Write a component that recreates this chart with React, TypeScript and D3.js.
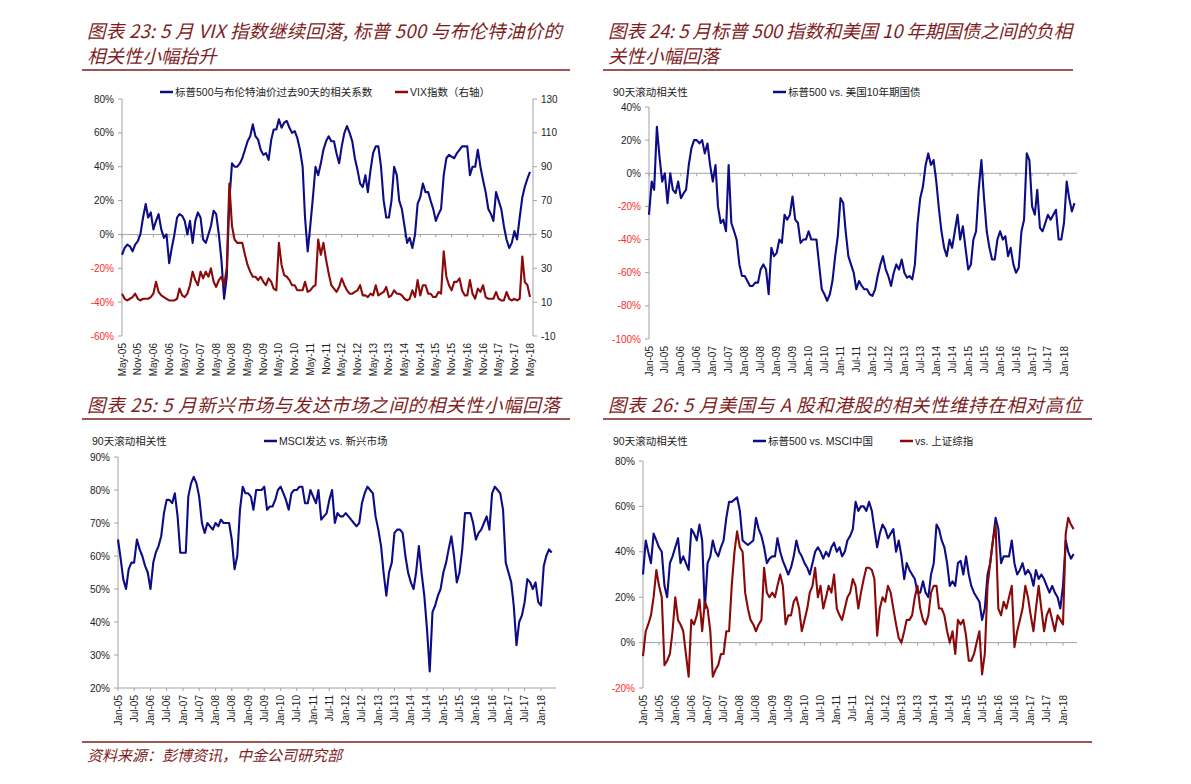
import React from "react";
import * as d3 from "d3";

// ---------- data: monthly readings ----------
// Panel 23: May-05 .. May-18
const p1Start = new Date(2005, 4, 1);
const p1Corr = [
  -12, -8, -6, -7, -10, -6, -4, 0,
  10, 18, 10, 13, 3, 8, 12, 3, -2, 0, -17, -8,
  0, 10, 12, 11, 8, 0, 8, -5, 8, 13, 10, -3,
  -5, 0, 5, 14, 12, 0, -15, -38, -25, 20, 42, 40,
  40, 42, 45, 50, 55, 58, 65, 58, 56, 50, 47, 48,
  44, 56, 62, 62, 68, 63, 66, 67, 63, 60, 61, 57,
  50, 40, 10, -10, 5, 22, 40, 35, 42, 50, 55, 58,
  55, 55, 48, 42, 52, 60, 64, 60, 55, 45, 38, 30,
  28, 35, 25, 38, 48, 52, 52, 40, 20, 10, 10, 20,
  40, 35, 20, 15, 5, -5, -2, -8, 0, 18, 22, 30,
  25, 25, 20, 15, 8, 12, 15, 35, 45, 47, 46, 45,
  48, 50, 52, 52, 52, 35, 40, 40, 50, 40, 32, 25,
  15, 12, 8, 25, 20, 15, 5, -3, -8, -5, 2, -3,
  10, 22, 28, 33, 37,
];
const p1Vix = [
  15, 12, 11, 12, 13, 15, 12, 11,
  12, 12, 12, 13, 15, 22, 16, 14, 13, 12, 11, 11,
  11, 12, 18, 14, 13, 15, 20, 28, 23, 20, 28, 24,
  28, 25, 30, 22, 19, 23, 25, 20, 30, 80, 55, 47,
  45, 45, 45, 38, 32, 28, 25, 25, 23, 25, 22, 20,
  24, 22, 18, 17, 45, 32, 26, 25, 23, 20, 20, 17,
  17, 17, 22, 16, 17, 19, 20, 47, 38, 45, 35, 27,
  20, 18, 16, 19, 24, 20, 17, 15, 15, 16, 17, 20,
  14, 14, 13, 15, 14, 20, 14, 15, 16, 19, 13, 14,
  17, 15, 15, 14, 12, 11, 12, 17, 13, 23, 14, 20,
  20, 15, 15, 13, 13, 16, 15, 40, 25, 20, 17, 22,
  22, 24, 17, 14, 14, 23, 15, 12, 18, 16, 20, 13,
  12, 12, 12, 16, 12, 11, 11, 16, 12, 11, 12, 11,
  12, 37, 22, 20, 13,
];
const p1LeftTicks = [-60, -40, -20, 0, 20, 40, 60, 80];
const p1RightTicks = [-10, 10, 30, 50, 70, 90, 110, 130];

// Panels 24-26: Jan-05 .. May-18
const janStart = new Date(2005, 0, 1);
const p2Corr = [
  -25, -5, -10, 28, 10, -5, 0, -18, 0, -10, -12, -5,
  -15, -12, -10, 5, 15, 20, 20, 18, 20, 12, 18, 5,
  -5, 5, -20, -30, -28, -35, 5, -30, -35, -40, -55, -62,
  -62, -65, -68, -68, -66, -66, -58, -55, -58, -73, -45, -50,
  -48, -40, -42, -25, -28, -25, -14, -28, -30, -42, -40, -40,
  -35, -40, -40, -40, -55, -70, -73, -77, -73, -65, -50, -38,
  -15, -18, -35, -50, -55, -60, -70, -65, -68, -70, -70, -73,
  -74, -70, -62, -55, -50, -58, -62, -68, -60, -55, -58, -52,
  -60, -63, -62, -64, -55, -30, -15, -8, 5, 12, 5, 8,
  -5, -22, -35, -45, -50, -40, -45, -35, -25, -40, -32, -45,
  -58, -55, -40, -35, -10, 8, -15, -35, -45, -52, -52, -40,
  -35, -40, -38, -50, -45, -55, -60, -57, -35, -28, 12, 8,
  -20, -25, -10, -33, -35, -30, -25, -28, -25, -22, -40, -40,
  -30, -5, -15, -23, -18,
];
const p2Ticks = [-100, -80, -60, -40, -20, 0, 20, 40];

const p3Corr = [
  65, 59, 53, 50, 56, 58, 58, 65, 62, 60, 57, 55,
  50, 58, 61, 63, 66, 73, 77, 77, 76, 79, 72, 61,
  61, 61, 78, 82, 84, 82, 78, 70, 67, 70, 69, 68,
  70, 69, 71, 70, 70, 70, 65, 56, 60, 74, 81, 79,
  79, 78, 74, 80, 80, 80, 81, 74, 75, 75, 77, 80,
  81, 79, 77, 74, 79, 80, 80, 81, 81, 76, 76, 80,
  78, 76, 80, 71, 72, 73, 77, 80, 70, 73, 72, 72,
  73, 72, 71, 70, 69, 70, 76, 79, 81, 80, 79, 72,
  68, 63, 55, 48, 55, 58, 67, 68, 68, 67, 60, 55,
  52, 50, 55, 63, 55, 48, 38, 25, 43, 45, 48, 50,
  55, 58, 62, 66, 60, 52, 55, 62, 73, 73, 73, 70,
  65, 67, 68, 70, 72, 68, 79, 81, 80, 79, 74, 58,
  55, 52, 45, 33, 40, 42, 46, 53, 52, 50, 52, 46,
  45, 57, 60, 62, 61,
];
const p3Ticks = [20, 30, 40, 50, 60, 70, 80, 90];

const p4China = [
  30, 45, 40, 35, 48, 45, 42, 40, 25, 20, 35, 38,
  42, 46, 35, 38, 35, 32, 50, 48, 45, 52, 45, 15,
  35, 38, 45, 40, 38, 42, 45, 55, 62, 62, 63, 64,
  58, 45, 44, 43, 44, 45, 55, 50, 47, 42, 35, 37,
  38, 38, 46, 40, 36, 33, 30, 33, 38, 45, 40, 38,
  35, 33, 30, 35, 40, 42, 40, 37, 40, 38, 42, 44,
  40, 42, 38, 40, 45, 47, 50, 62, 58, 60, 60, 58,
  62, 58, 50, 42, 48, 52, 50, 46, 48, 50, 40, 45,
  38, 28, 35, 32, 30, 28, 22, 22, 27, 22, 20, 30,
  35, 52, 50, 45, 42, 35, 25, 27, 25, 35, 36, 30,
  38, 30, 25, 22, 20, 18, 10, 15, 30, 35, 45, 55,
  50, 35, 38, 38, 38, 45, 35, 30, 32, 35, 30, 32,
  30, 25, 32, 28, 30, 28, 25, 22, 25, 22, 20, 15,
  25, 45, 40, 37, 39,
];
const p4Shanghai = [
  -6, 5, 8, 12, 20, 32, 25, 20, -10, -8, -5, 5,
  20, 10, 8, 5, -5, -15, 10, 8, 12, 19, 5, 18,
  15, 5, -15, -12, -10, -5, -5, 5, 5, 25, 40, 49,
  42, 40, 22, 15, 10, 8, 5, 8, 10, 33, 22, 20,
  22, 20, 25, 30, 25, 8, 12, 12, 18, 20, 15, 5,
  10, 15, 22, 25, 33, 20, 25, 15, 20, 25, 22, 30,
  15, 12, 10, 15, 20, 22, 28, 25, 15, 22, 28, 33,
  33, 32, 28, 3, 15, 20, 18, 25, 22, 15, 8, 2,
  0, 5, 10, 10, 12, 20, 25, 15, 10, 8, 12, 22,
  25, 25, 15, 15, 12, 5, 0, 5, -5, 10, 8, 10,
  3, -8, -8, -5, 0, 5, -14, -5, 25, 35, 45, 52,
  15, 12, 18, 15, 20, 25, -2, 5, 10, 15, 25, 20,
  12, 5, 15, 25, 15, 5, 12, 15, 10, 5, 12, 10,
  8, 48, 55, 52, 50,
];
const p4Ticks = [-20, 0, 20, 40, 60, 80];

// ---------- styling ----------
const LATIN = "'Liberation Sans', Arial, 'Noto Sans CJK SC', sans-serif";
const CJK = "'Noto Sans CJK SC', sans-serif";
const BLUE = "#0C0C86";
const RED = "#8A0A0A";
const AXIS = "#A3A3A3";
const MAROON = "#7E1D1D";
const NEG = "#FF2A2A";

const fmtMonth = d3.timeFormat("%b-%y");

interface Series {
  values: number[];
  color: string;
  right?: boolean;
}

interface PanelProps {
  start: Date;
  tickStart: Date;
  tickEnd: Date;
  x0: number;
  x1: number;
  xEnd: number;
  yTop: number;
  yBot: number;
  yDomain: [number, number];
  yTicks: number[];
  rDomain?: [number, number];
  rTicks?: number[];
  baseAtZero: boolean;
  series: Series[];
}

const Panel: React.FC<PanelProps> = (p) => {
  const x = d3.scaleTime().domain([p.tickStart, p.tickEnd]).range([p.x0, p.x1]);
  const y = d3.scaleLinear().domain(p.yDomain).range([p.yBot, p.yTop]);
  const yr = p.rDomain
    ? d3.scaleLinear().domain(p.rDomain).range([p.yBot, p.yTop])
    : null;
  const months = d3.timeMonth.range(p.tickStart, d3.timeMonth.offset(p.tickEnd, 1), 6);
  const baseY = p.baseAtZero ? y(0) : p.yBot;

  return (
    <g>
      {/* y axis */}
      <line x1={p.x0} x2={p.x0} y1={p.yTop} y2={p.yBot} stroke={AXIS} strokeWidth={1} />
      {p.yTicks.map((t) => (
        <g key={"yl" + t}>
          <line x1={p.x0 - 4} x2={p.x0} y1={y(t)} y2={y(t)} stroke={AXIS} />
          <text
            x={p.x0 - 8}
            y={y(t)}
            dy="0.35em"
            textAnchor="end"
            fontFamily={LATIN}
            fontSize={10}
            fill={t < 0 ? NEG : "#222"}
          >
            {t}%
          </text>
        </g>
      ))}
      {yr && (
        <g>
          <line x1={p.xEnd} x2={p.xEnd} y1={p.yTop} y2={p.yBot} stroke={AXIS} />
          {p.rTicks!.map((t) => (
            <g key={"yr" + t}>
              <line x1={p.xEnd} x2={p.xEnd + 4} y1={yr(t)} y2={yr(t)} stroke={AXIS} />
              <text
                x={p.xEnd + 8}
                y={yr(t)}
                dy="0.35em"
                fontFamily={LATIN}
                fontSize={10}
                fill="#222"
              >
                {t}
              </text>
            </g>
          ))}
        </g>
      )}
      {/* x axis */}
      <line x1={p.x0} x2={p.xEnd} y1={baseY} y2={baseY} stroke={AXIS} strokeWidth={1} />
      {months.map((m) => (
        <g key={"xt" + m.getTime()}>
          <line x1={x(m)} x2={x(m)} y1={baseY} y2={baseY + 3} stroke={AXIS} />
          <text
            transform={`translate(${x(m)},${p.yBot + 7}) rotate(-90)`}
            textAnchor="end"
            dy="0.35em"
            fontFamily={LATIN}
            fontSize={10}
            fill="#222"
          >
            {fmtMonth(m)}
          </text>
        </g>
      ))}
      {/* series */}
      {p.series.map((s, k) => {
        const sy = s.right && yr ? yr : y;
        const path = d3
          .line<number>()
          .x((_, i) => x(d3.timeMonth.offset(p.start, i)))
          .y((v) => sy(v))(s.values);
        return (
          <path
            key={k}
            d={path ?? ""}
            fill="none"
            stroke={s.color}
            strokeWidth={2.1}
            strokeLinejoin="round"
          />
        );
      })}
    </g>
  );
};

const Legend: React.FC<{ x: number; y: number; color: string; label: string }> = ({
  x,
  y,
  color,
  label,
}) => (
  <g>
    <line x1={x} x2={x + 13} y1={y} y2={y} stroke={color} strokeWidth={2.5} />
    <text x={x + 15} y={y} dy="0.35em" fontFamily={LATIN} fontSize={10.5} fill="#222">
      {label}
    </text>
  </g>
);

// first title line is stretched to the width it has in the reference
const Title: React.FC<{
  x: number;
  y: number;
  lines: string[];
  width: number;
  x1: number;
  x2: number;
  lineY: number;
}> = ({ x, y, lines, width, x1, x2, lineY }) => (
  <g>
    {lines.map((l, i) => (
      <text
        key={i}
        x={x}
        y={y + i * 25}
        fontFamily={CJK}
        fontStyle="italic"
        fontSize={18.5}
        fill={MAROON}
        textLength={i === 0 ? width : undefined}
        lengthAdjust="spacing"
      >
        {l}
      </text>
    ))}
    <line x1={x1} x2={x2} y1={lineY} y2={lineY} stroke={MAROON} strokeWidth={1.5} />
  </g>
);

const App: React.FC = () => {
  return (
    <div style={{ position: "absolute", left: 0, top: 0 }}>
      <svg width={1191} height={784} style={{ display: "block", background: "#fff" }}>
        <Title
          x={87}
          y={38}
          width={475}
          lines={["图表 23: 5 月 VIX 指数继续回落, 标普 500 与布伦特油价的", "相关性小幅抬升"]}
          x1={82}
          x2={570}
          lineY={70}
        />
        <Title
          x={608}
          y={38}
          width={464}
          lines={["图表 24: 5 月标普 500 指数和美国 10 年期国债之间的负相", "关性小幅回落"]}
          x1={603}
          x2={1073}
          lineY={70}
        />
        <Title
          x={87}
          y={412}
          width={473}
          lines={["图表 25: 5 月新兴市场与发达市场之间的相关性小幅回落"]}
          x1={82}
          x2={570}
          lineY={419}
        />
        <Title
          x={608}
          y={412}
          width={474}
          lines={["图表 26: 5 月美国与 A 股和港股的相关性维持在相对高位"]}
          x1={603}
          x2={1092}
          lineY={419}
        />

        {/* panel 23 */}
        <Panel
          start={p1Start}
          tickStart={new Date(2005, 4, 1)}
          tickEnd={new Date(2018, 4, 1)}
          x0={122}
          x1={530}
          xEnd={533}
          yTop={99}
          yBot={336}
          yDomain={[-60, 80]}
          yTicks={p1LeftTicks}
          rDomain={[-10, 130]}
          rTicks={p1RightTicks}
          baseAtZero
          series={[
            { values: p1Corr, color: BLUE },
            { values: p1Vix, color: RED, right: true },
          ]}
        />
        <Legend x={160} y={92} color={BLUE} label="标普500与布伦特油价过去90天的相关系数" />
        <Legend x={395} y={92} color={RED} label="VIX指数（右轴）" />

        {/* panel 24 */}
        <Panel
          start={janStart}
          tickStart={new Date(2005, 0, 1)}
          tickEnd={new Date(2018, 0, 1)}
          x0={649}
          x1={1064}
          xEnd={1077}
          yTop={107}
          yBot={339}
          yDomain={[-100, 40]}
          yTicks={p2Ticks}
          baseAtZero
          series={[{ values: p2Corr, color: BLUE }]}
        />
        <text x={613} y={92} dy="0.35em" fontFamily={LATIN} fontSize={10.5} fill="#222">
          90天滚动相关性
        </text>
        <Legend x={773} y={92} color={BLUE} label="标普500 vs. 美国10年期国债" />

        {/* panel 25 */}
        <Panel
          start={janStart}
          tickStart={new Date(2005, 0, 1)}
          tickEnd={new Date(2018, 0, 1)}
          x0={118}
          x1={541}
          xEnd={556}
          yTop={457}
          yBot={688}
          yDomain={[20, 90]}
          yTicks={p3Ticks}
          baseAtZero={false}
          series={[{ values: p3Corr, color: BLUE }]}
        />
        <text x={92} y={441} dy="0.35em" fontFamily={LATIN} fontSize={10.5} fill="#222">
          90天滚动相关性
        </text>
        <Legend x={264} y={441} color={BLUE} label="MSCI发达 vs. 新兴市场" />

        {/* panel 26 */}
        <Panel
          start={janStart}
          tickStart={new Date(2005, 0, 1)}
          tickEnd={new Date(2018, 0, 1)}
          x0={643}
          x1={1063}
          xEnd={1077}
          yTop={461}
          yBot={688}
          yDomain={[-20, 80]}
          yTicks={p4Ticks}
          baseAtZero
          series={[
            { values: p4China, color: BLUE },
            { values: p4Shanghai, color: RED },
          ]}
        />
        <text x={613} y={441} dy="0.35em" fontFamily={LATIN} fontSize={10.5} fill="#222">
          90天滚动相关性
        </text>
        <Legend x={753} y={441} color={BLUE} label="标普500 vs. MSCI中国" />
        <Legend x={900} y={441} color={RED} label="vs. 上证综指" />

        {/* footer */}
        <line x1={82} x2={1092} y1={742} y2={742} stroke={MAROON} strokeWidth={1.5} />
        <text x={87} y={761} fontFamily={CJK} fontStyle="italic" fontSize={15} fill={MAROON}>
          资料来源：彭博资讯，中金公司研究部
        </text>
      </svg>
    </div>
  );
};

export default App;
